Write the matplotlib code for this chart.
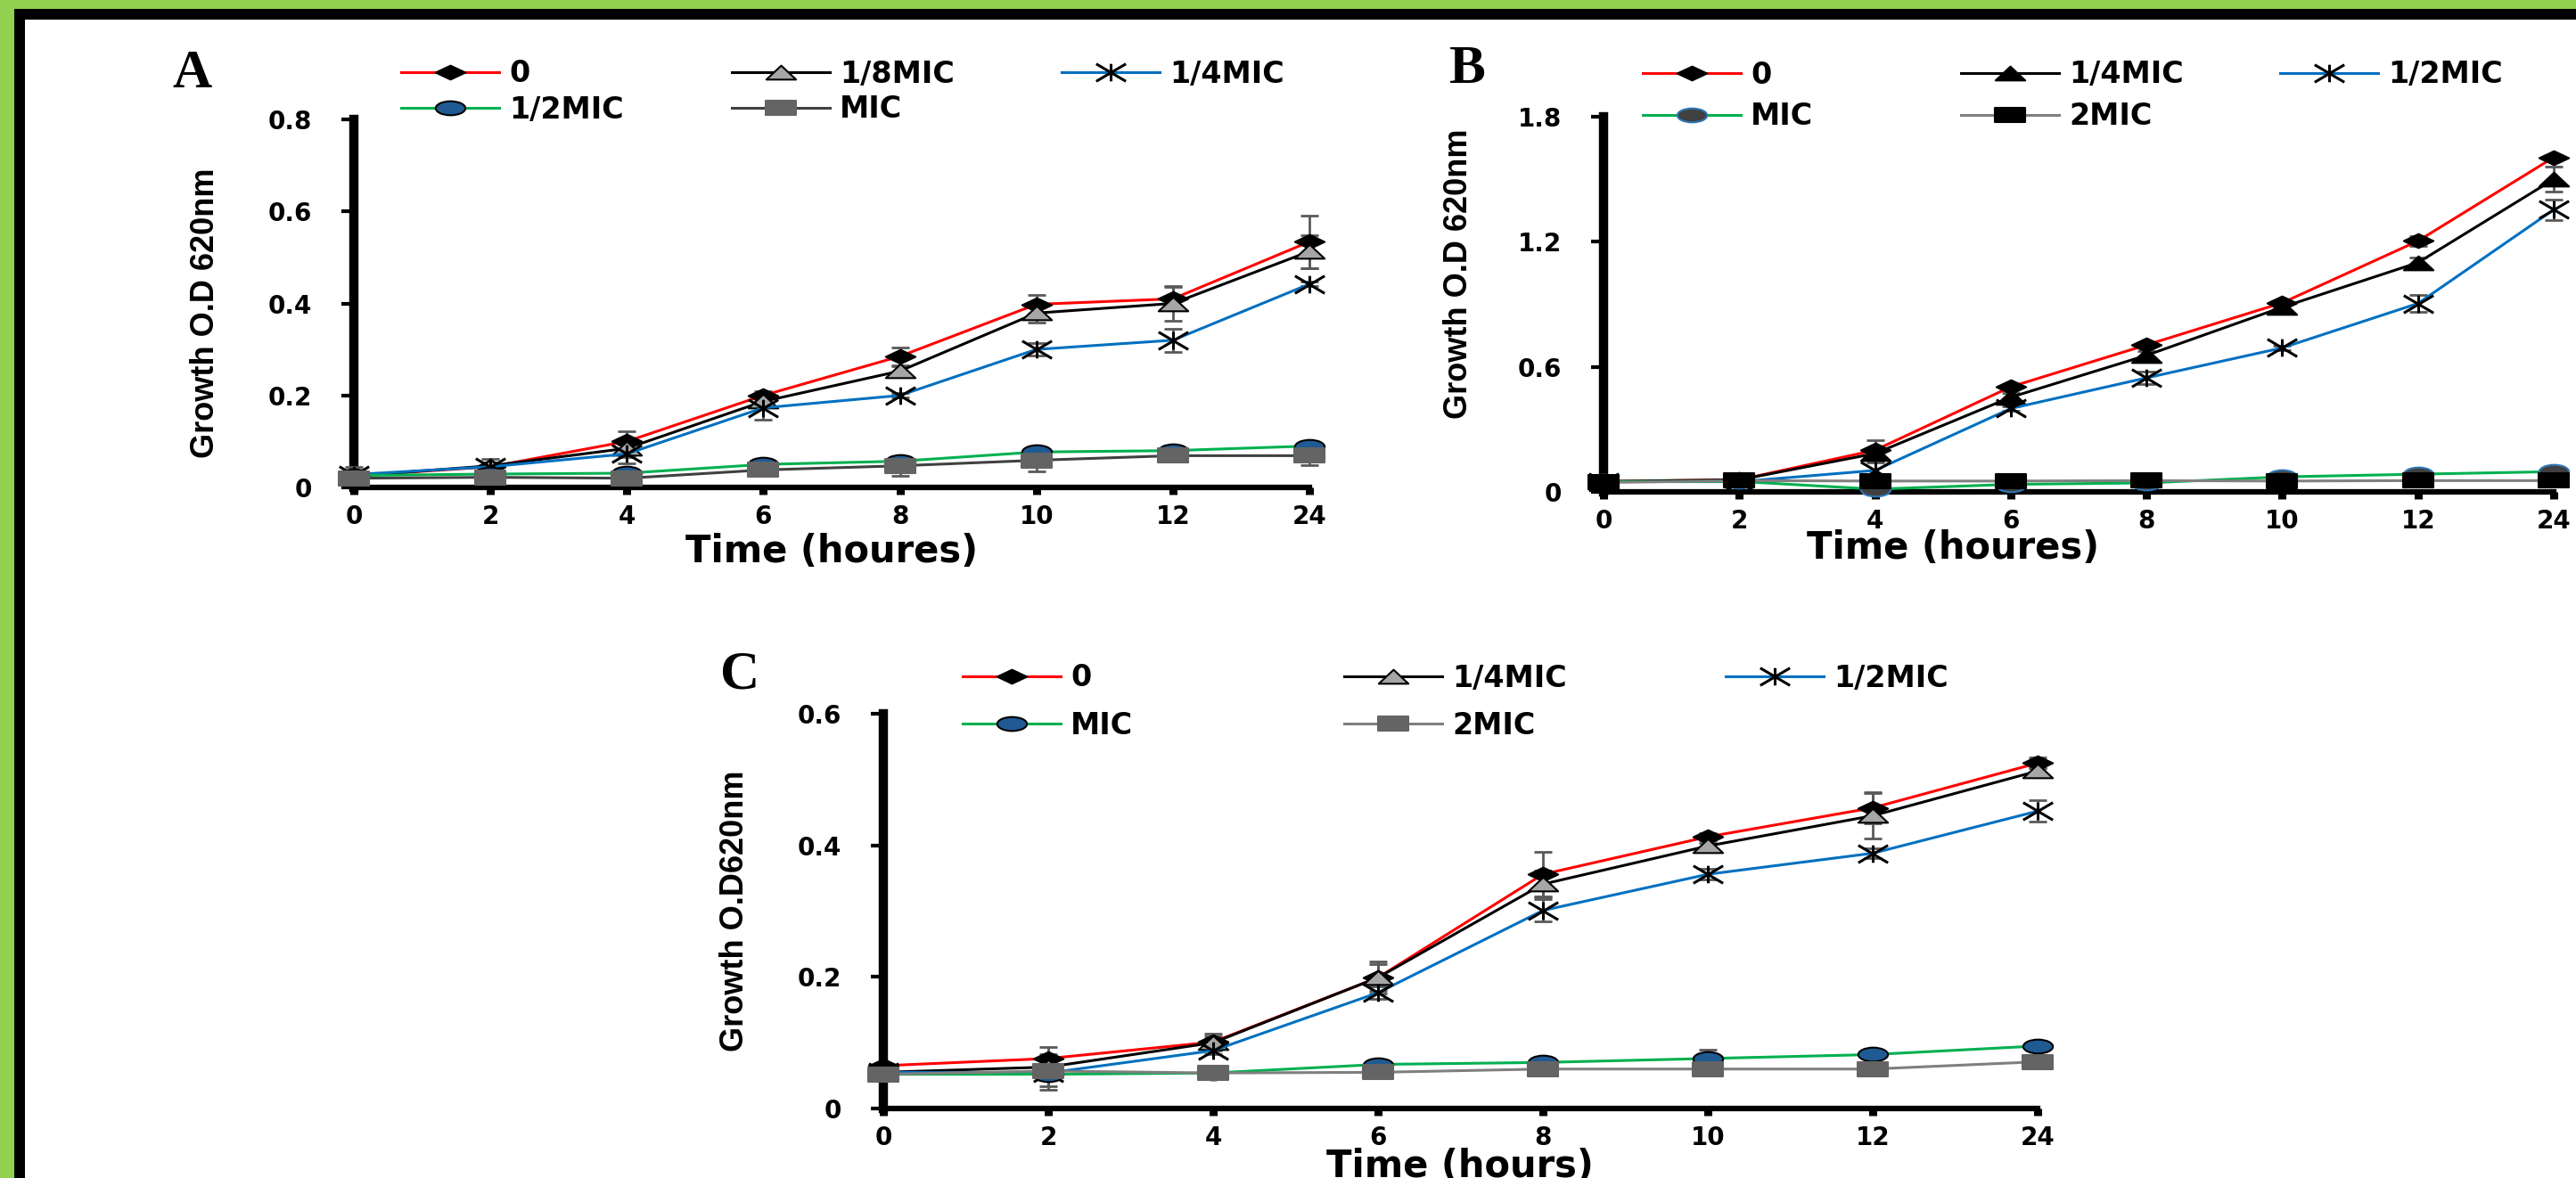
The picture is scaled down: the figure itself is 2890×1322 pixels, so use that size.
import numpy as np
import matplotlib
matplotlib.use('Agg')
import matplotlib.pyplot as plt
from matplotlib.path import Path
from matplotlib.patches import Rectangle

W, H = 2890, 1322

times = ['0', '2', '4', '6', '8', '10', '12', '24']

# Panel A
a_labels = ['0', '1/8MIC', '1/4MIC', '1/2MIC', 'MIC']
a_zero = [0.025, 0.045, 0.10, 0.20, 0.285, 0.398, 0.41, 0.534]
a_zero_err = [0.02, 0.01, 0.022, 0.01, 0.02, 0.02, 0.025, 0.057]
a_eighth = [0.025, 0.047, 0.085, 0.187, 0.253, 0.379, 0.40, 0.513]
a_eighth_err = [0, 0.015, 0.02, 0.01, 0.01, 0.02, 0.037, 0.036]
a_quarter = [0.028, 0.045, 0.073, 0.173, 0.20, 0.30, 0.32, 0.442]
a_quarter_err = [0, 0, 0.02, 0.025, 0.005, 0.014, 0.025, 0.005]
a_half = [0.026, 0.029, 0.031, 0.05, 0.057, 0.077, 0.08, 0.09]
a_half_err = [0, 0, 0, 0, 0.01, 0, 0, 0]
a_mic = [0.02, 0.022, 0.02, 0.038, 0.047, 0.059, 0.069, 0.069]
a_mic_err = [0.01, 0, 0, 0, 0.021, 0.025, 0, 0.02]

# Panel B
b_labels = ['0', '1/4MIC', '1/2MIC', 'MIC', '2MIC']
b_zero = [0.05, 0.058, 0.20, 0.504, 0.705, 0.907, 1.204, 1.605]
b_zero_err = [0, 0, 0.05, 0.01, 0.01, 0.01, 0.025, 0.01]
b_quarter = [0.05, 0.058, 0.184, 0.454, 0.655, 0.886, 1.10, 1.50]
b_quarter_err = [0, 0, 0.03, 0.02, 0.02, 0.01, 0.025, 0.06]
b_half = [0.049, 0.049, 0.103, 0.40, 0.547, 0.691, 0.904, 1.354]
b_half_err = [0, 0, 0.04, 0.01, 0.03, 0.01, 0.04, 0.05]
b_mic = [0.05, 0.05, 0.013, 0.036, 0.043, 0.072, 0.085, 0.097]
b_mic_err = [0, 0, 0, 0, 0, 0, 0, 0.02]
b_2mic = [0.045, 0.054, 0.052, 0.052, 0.054, 0.052, 0.054, 0.054]
b_2mic_err = [0, 0.01, 0, 0.01, 0, 0, 0, 0.02]

# Panel C
c_labels = ['0', '1/4MIC', '1/2MIC', 'MIC', '2MIC']
c_zero = [0.065, 0.076, 0.101, 0.199, 0.356, 0.413, 0.457, 0.525]
c_zero_err = [0, 0.018, 0.013, 0.024, 0.034, 0.005, 0.024, 0.008]
c_quarter = [0.055, 0.063, 0.10, 0.199, 0.341, 0.399, 0.445, 0.513]
c_quarter_err = [0, 0.02, 0.01, 0.02, 0.02, 0.005, 0.035, 0.005]
c_half = [0.055, 0.054, 0.088, 0.176, 0.301, 0.356, 0.388, 0.452]
c_half_err = [0, 0.02, 0.005, 0.01, 0.017, 0.008, 0.008, 0.016]
c_mic = [0.052, 0.052, 0.054, 0.067, 0.07, 0.076, 0.082, 0.095]
c_mic_err = [0, 0.023, 0, 0, 0, 0.013, 0, 0]
c_2mic = [0.052, 0.057, 0.054, 0.055, 0.06, 0.06, 0.06, 0.071]
c_2mic_err = [0.01, 0.01, 0, 0.005, 0, 0, 0, 0]

plt.rcParams['font.family'] = 'DejaVu Sans'
plt.rcParams['font.weight'] = 'bold'

# the source picture is stretched sideways, so markers are squashed
asp = 0.47
diamond = Path([(-1, 0), (0, asp), (1, 0), (0, -asp), (-1, 0)], closed=True)
triangle = Path([(-1, -asp), (1, -asp), (0, asp), (-1, -asp)], closed=True)
square = Path([(-1, -asp), (1, -asp), (1, asp), (-1, asp), (-1, -asp)], closed=True)
uc = Path.unit_circle()
ellipse = Path(uc.vertices * [1, asp], uc.codes)
asterisk = Path([(-0.8, -asp), (0.8, asp), (-0.8, asp), (0.8, -asp), (0, -asp), (0, asp)],
                [Path.MOVETO, Path.LINETO] * 3)


def st(color, marker, fc, ec='black', mew=1.5, ms=24):
    return dict(color=color, marker=marker, mfc=fc, mec=ec, mew=mew, ms=ms)


a_styles = [st('#FF0000', diamond, 'black'),
            st('black', triangle, '#A6A6A6'),
            st('#0070C0', asterisk, 'none', mew=2.2, ms=24),
            st('#00B050', ellipse, '#1F5A93'),
            st('#404040', square, '#646464', ec='#646464')]
b_styles = [st('#FF0000', diamond, 'black'),
            st('black', triangle, 'black'),
            st('#0070C0', asterisk, 'none', mew=2.2, ms=24),
            st('#00B050', ellipse, '#404040', ec='#2E75B6'),
            st('#808080', square, 'black')]
c_styles = [st('#FF0000', diamond, 'black'),
            st('black', triangle, '#A6A6A6'),
            st('#0070C0', asterisk, 'none', mew=2.2, ms=24),
            st('#00B050', ellipse, '#1F5A93'),
            st('#7F7F7F', square, '#646464', ec='#646464')]

fig = plt.figure(figsize=(W / 100, H / 100), dpi=100, facecolor='#92D050')
fig.patches.append(Rectangle((16 / W, 0), 1, 1 - 10 / H, transform=fig.transFigure,
                             facecolor='black', zorder=-2))
fig.patches.append(Rectangle((28 / W, 0), 1, 1 - 22 / H, transform=fig.transFigure,
                             facecolor='white', zorder=-1))


def make_panel(box, ymax, ystep, series, errs, labels, styles,
               letter, letter_xy, xlab, xlab_xy, ylab, ylab_xy, leg_x, leg_y):
    left, top, right, bottom = box
    ax = fig.add_axes([left / W, 1 - bottom / H, (right - left) / W, (bottom - top) / H])
    ax.patch.set_alpha(0)
    x = np.arange(len(times))
    handles = []
    for y, e, s, lab in zip(series, errs, styles, labels):
        y = np.array(y)
        e = np.array(e)
        m = e > 0
        if m.any():
            ax.errorbar(x[m], y[m], yerr=e[m], fmt='none', ecolor='#595959',
                        elinewidth=2, capsize=7, capthick=2, zorder=3, clip_on=False)
        h, = ax.plot(x, y, lw=2.2, zorder=4, clip_on=False, label=lab, **s)
        handles.append(h)

    ax.set_xlim(0, len(times) - 1)
    ax.set_ylim(0, ymax)
    ax.set_xticks(x)
    ax.set_xticklabels(times)
    ax.set_yticks(np.arange(0, ymax + 1e-9, ystep))
    ax.yaxis.set_major_formatter(lambda v, p: f'{v:g}')
    for sp in ['top', 'right']:
        ax.spines[sp].set_visible(False)
    ax.spines['left'].set_linewidth(7.5)
    ax.spines['bottom'].set_linewidth(4.5)
    ax.tick_params(axis='x', direction='out', length=6, width=6.5, pad=8, labelsize=20)
    ax.tick_params(axis='y', direction='out', length=10, width=3, pad=24, labelsize=20)

    ax.set_xlabel(xlab, fontsize=30, fontweight='bold')
    ax.xaxis.label.set_verticalalignment('center')
    ax.xaxis.set_label_coords(xlab_xy[0] / W, 1 - xlab_xy[1] / H, transform=fig.transFigure)
    ax.set_ylabel(ylab, fontsize=26, fontweight='bold',
                  family=['Liberation Sans Narrow', 'Liberation Sans'])
    ax.yaxis.label.set_verticalalignment('center')
    ax.yaxis.set_label_coords(ylab_xy[0] / W, 1 - ylab_xy[1] / H, transform=fig.transFigure)

    fig.text(letter_xy[0] / W, 1 - letter_xy[1] / H, letter, family='Liberation Serif',
             fontweight='bold', fontsize=44, ha='center', va='center')

    for i, (h, lab) in enumerate(zip(handles, labels)):
        fig.legend([h], [lab], loc='center left',
                   bbox_to_anchor=(leg_x[i % 3] / W, 1 - leg_y[i // 3] / H),
                   frameon=False, borderpad=0, borderaxespad=0, handlelength=3.3,
                   handletextpad=0.33, fontsize=24)
    return ax


make_panel((397, 134, 1469, 547), 0.8, 0.2,
           [a_zero, a_eighth, a_quarter, a_half, a_mic],
           [a_zero_err, a_eighth_err, a_quarter_err, a_half_err, a_mic_err],
           a_labels, a_styles, 'A', (216, 83), 'Time (houres)', (933, 619),
           'Growth O.D 620nm', (230, 351), (450, 821, 1191), (83, 123))

make_panel((1799, 131, 2865, 552), 1.8, 0.6,
           [b_zero, b_quarter, b_half, b_mic, b_2mic],
           [b_zero_err, b_quarter_err, b_half_err, b_mic_err, b_2mic_err],
           b_labels, b_styles, 'B', (1646, 78), 'Time (houres)', (2191, 615),
           'Growth O.D 620nm', (1637, 307), (1843, 2200, 2558), (84, 131))

make_panel((991, 801, 2286, 1244), 0.6, 0.2,
           [c_zero, c_quarter, c_half, c_mic, c_2mic],
           [c_zero_err, c_quarter_err, c_half_err, c_mic_err, c_2mic_err],
           c_labels, c_styles, 'C', (830, 757), 'Time (hours)', (1638, 1309),
           'Growth O.D620nm', (825, 1022), (1080, 1508, 1936), (761, 814))

fig.savefig('out.png', dpi=100, facecolor=fig.get_facecolor())
